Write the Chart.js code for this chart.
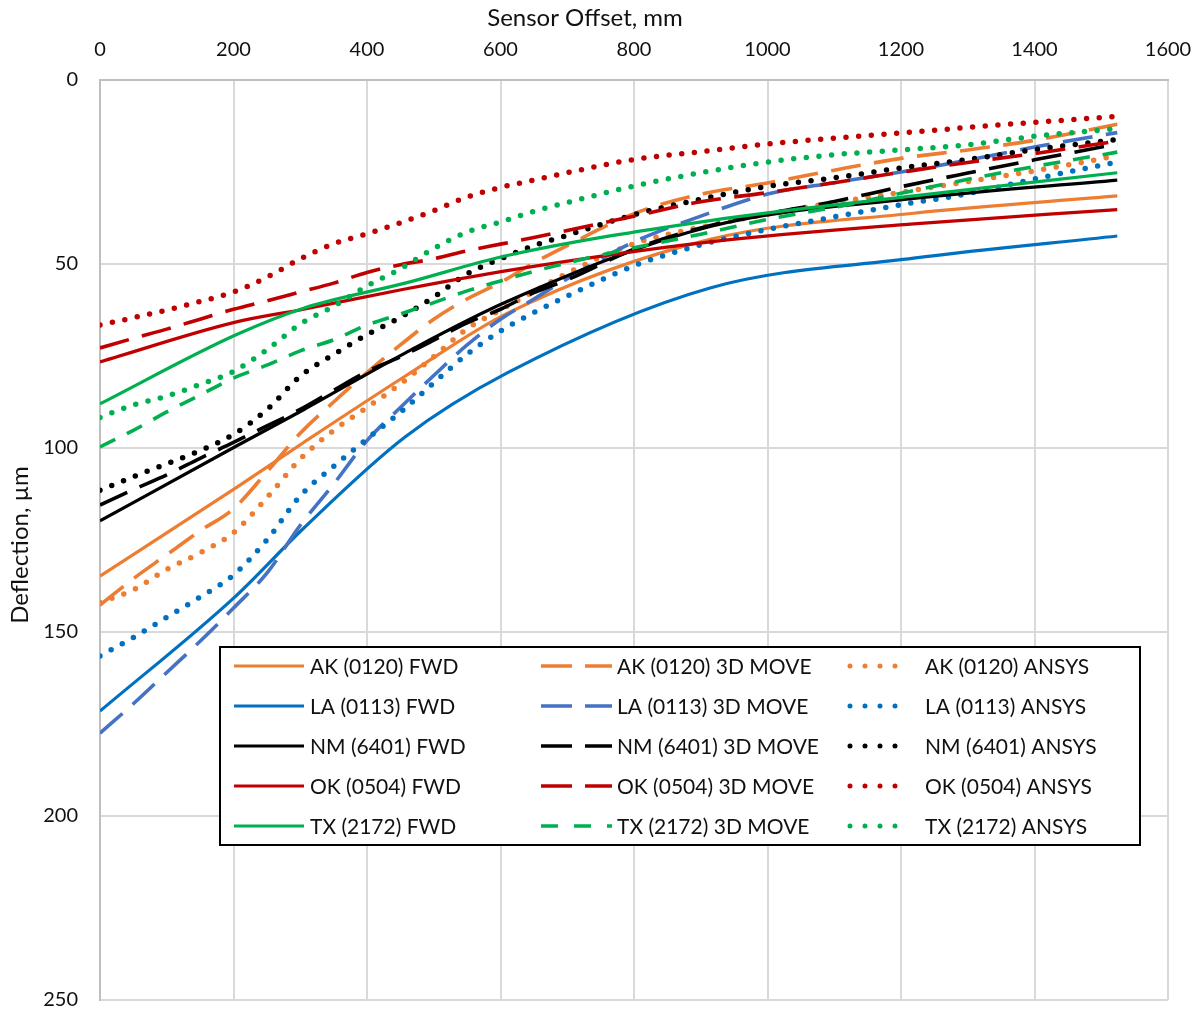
<!DOCTYPE html>
<html>
<head>
<meta charset="utf-8">
<title>Deflection basin</title>
<script src="https://cdn.jsdelivr.net/npm/chart.js@4.4.1/dist/chart.umd.min.js"></script>
<style>
  html, body { margin: 0; padding: 0; background: #ffffff; }
  #wrap { width: 1202px; height: 1011px; }
</style>
</head>
<body>
<div id="wrap"><canvas id="basinChart" width="1202" height="1011"></canvas></div>
<script>
// sensor offsets, mm
const fwdOffsets = [0, 203, 305, 457, 610, 914, 1219, 1524];
const modelOffsets = [0, 50, 100, 150, 200, 250, 300, 350, 400, 450, 500, 550, 600, 650, 700, 800, 900, 1000, 1100, 1200, 1300, 1400, 1524];

// deflections, µm — measured (FWD)
const akFwd = [134.8, 110.9, 98.5, 80.5, 63.4, 43.3, 36.2, 31.5];
const laFwd = [171.5, 140.3, 121.8, 97.0, 79.6, 56.5, 48.4, 42.4];
const nmFwd = [119.8, 99.6, 89.6, 74.2, 60.2, 39.8, 32.2, 27.2];
const okFwd = [76.6, 65.8, 62.3, 56.8, 51.8, 44.0, 39.1, 35.2];
const txFwd = [88.0, 69.3, 62.0, 55.2, 47.7, 38.2, 31.5, 25.2];

// deflections, µm — 3D MOVE
const ak3d = [142.7, 135.5, 129.0, 122.5, 116.5, 106.5, 96.0, 87.5, 79.5, 72.0, 65.0, 59.5, 55.0, 49.7, 45.0, 36.3, 31.0, 28.0, 24.5, 21.3, 19.0, 16.4, 12.0];
const la3d = [177.5, 169.5, 161.0, 152.5, 143.5, 134.0, 121.0, 109.8, 98.0, 89.0, 80.3, 72.0, 65.0, 59.5, 54.0, 44.0, 37.0, 31.0, 27.9, 25.0, 21.8, 18.2, 14.3];
const nm3d = [115.5, 111.3, 107.3, 102.8, 98.5, 94.0, 89.5, 84.3, 79.2, 75.2, 70.7, 66.0, 62.3, 57.8, 54.3, 46.0, 40.2, 36.3, 33.0, 29.0, 25.3, 21.7, 17.4];
const ok3d = [72.8, 70.2, 67.7, 65.0, 62.3, 60.0, 57.6, 55.2, 52.3, 50.2, 48.6, 46.4, 44.6, 42.8, 40.9, 37.0, 33.1, 30.6, 27.9, 25.1, 22.4, 20.0, 16.6];
const tx3d = [99.7, 95.2, 90.2, 85.6, 81.0, 77.5, 73.6, 70.6, 66.6, 63.6, 60.5, 57.3, 54.6, 52.0, 49.7, 45.6, 41.9, 37.9, 34.6, 30.8, 27.0, 23.5, 19.6];

// deflections, µm — ANSYS
const akAnsys = [142.0, 138.5, 133.0, 128.5, 123.0, 113.5, 103.0, 95.2, 89.0, 82.6, 75.2, 67.6, 62.5, 57.5, 52.5, 44.5, 40.0, 36.5, 33.3, 30.5, 27.6, 24.7, 20.6];
const laAnsys = [156.5, 151.5, 146.0, 140.5, 134.5, 125.0, 113.0, 105.0, 97.5, 90.3, 82.3, 74.5, 68.2, 63.2, 58.7, 50.5, 44.8, 40.6, 37.2, 33.9, 30.9, 26.9, 22.3];
const nmAnsys = [111.5, 107.8, 104.3, 100.7, 96.3, 89.6, 80.5, 74.6, 69.2, 64.5, 59.0, 52.7, 48.6, 45.0, 42.2, 36.6, 32.4, 28.9, 26.6, 23.9, 21.6, 18.9, 16.2];
const okAnsys = [66.6, 64.6, 62.5, 60.2, 57.6, 53.6, 48.6, 44.5, 41.8, 38.8, 35.5, 31.8, 29.2, 27.2, 25.2, 21.6, 19.5, 17.4, 15.8, 14.4, 12.9, 11.5, 9.9];
const txAnsys = [91.7, 88.3, 85.9, 82.7, 79.2, 73.3, 66.3, 61.5, 56.0, 51.3, 45.8, 41.3, 38.6, 35.7, 33.3, 28.8, 25.2, 22.3, 20.3, 19.0, 17.6, 15.3, 13.2];

const xTicks = [0, 200, 400, 600, 800, 1000, 1200, 1400, 1600];
const yTicks = [0, 50, 100, 150, 200, 250];
const xTitle = 'Sensor Offset, mm';
const yTitle = 'Deflection, µm';

const sites = ['AK (0120)', 'LA (0113)', 'NM (6401)', 'OK (0504)', 'TX (2172)'];
const methods = ['FWD', '3D MOVE', 'ANSYS'];

const seriesTable = [
  [akFwd, ak3d, akAnsys],
  [laFwd, la3d, laAnsys],
  [nmFwd, nm3d, nmAnsys],
  [okFwd, ok3d, okAnsys],
  [txFwd, tx3d, txAnsys]
];

// line colours per site: [FWD, 3D MOVE, ANSYS]
const siteColors = [
  ['#ED7D31', '#ED7D31', '#ED7D31'],
  ['#0070C0', '#4472C4', '#0070C0'],
  ['#000000', '#000000', '#000000'],
  ['#C00000', '#C00000', '#C00000'],
  ['#00B050', '#00B050', '#00B050']
];

function lineStyle(site, method) {
  if (method === 0) return { width: 3.2, dash: [], cap: 'butt', legendDash: [] };
  if (method === 1) {
    if (site === 4) return { width: 3.6, dash: [17, 13], cap: 'butt', legendDash: [17, 16] };
    return { width: 3.6, dash: [30, 13.5], cap: 'butt', legendDash: [31, 13] };
  }
  return { width: 5.5, dash: [0, 12.7], cap: 'round', legendDash: [0, 15] };
}

const datasets = [];
const total = sites.length * methods.length;
sites.forEach((site, s) => {
  methods.forEach((method, m) => {
    const xs = m === 0 ? fwdOffsets : modelOffsets;
    const ys = seriesTable[s][m];
    const st = lineStyle(s, m);
    datasets.push({
      label: site + ' ' + method,
      data: xs.map((x, i) => ({ x: x, y: ys[i] })),
      borderColor: siteColors[s][m],
      backgroundColor: siteColors[s][m],
      borderWidth: st.width,
      borderDash: st.dash,
      borderCapStyle: st.cap,
      borderJoinStyle: 'round',
      legendDash: st.legendDash,
      pointRadius: 0,
      fill: false,
      cubicInterpolationMode: 'monotone',
      // later series sit on top
      order: total - datasets.length
    });
  });
});

// boxed three-column legend inside the plot, plus the axis titles
const legendBox = {
  id: 'legendBox',
  afterDatasetsDraw(chart) {
    const ctx = chart.ctx;
    const box = { left: 220, top: 647, right: 1140, bottom: 845 };
    const rowY = [666, 706, 746, 786, 826];
    const cols = [
      { x0: 234, x1: 304, tx: 310 },
      { x0: 541, x1: 612, tx: 617 },
      { x0: 850, x1: 910, tx: 925 }
    ];
    ctx.save();
    ctx.fillStyle = '#ffffff';
    ctx.fillRect(box.left, box.top, box.right - box.left, box.bottom - box.top);
    ctx.lineWidth = 2;
    ctx.strokeStyle = '#000000';
    ctx.setLineDash([]);
    ctx.strokeRect(box.left, box.top, box.right - box.left, box.bottom - box.top);

    ctx.font = '21px Lato';
    ctx.textBaseline = 'middle';
    ctx.textAlign = 'left';
    chart.data.datasets.forEach((ds, i) => {
      const s = Math.floor(i / methods.length);
      const m = i % methods.length;
      const c = cols[m];
      const y = rowY[s];
      ctx.beginPath();
      ctx.strokeStyle = ds.borderColor;
      ctx.lineWidth = m === 2 ? 5 : ds.borderWidth;
      ctx.lineCap = ds.borderCapStyle;
      ctx.setLineDash(ds.legendDash);
      ctx.moveTo(c.x0, y);
      ctx.lineTo(c.x1, y);
      ctx.stroke();
      ctx.setLineDash([]);
      ctx.fillStyle = '#111111';
      ctx.fillText(ds.label, c.tx, y + 1);
    });

    // axis titles
    ctx.font = '24px Lato';
    ctx.fillStyle = '#111111';
    ctx.textAlign = 'center';
    ctx.fillText(xTitle, 585, 18);
    ctx.translate(20, 545);
    ctx.rotate(-Math.PI / 2);
    ctx.fillText(yTitle, 0, 0);
    ctx.restore();
  }
};

Chart.defaults.font.family = 'Lato';
Chart.defaults.color = '#111111';

function fixBox(size, key) {
  return (scale) => {
    scale[key] = size;
    scale.paddingLeft = 0;
    scale.paddingRight = 0;
    scale.paddingTop = 0;
    scale.paddingBottom = 0;
  };
}

new Chart(document.getElementById('basinChart'), {
  type: 'line',
  data: { datasets: datasets },
  plugins: [legendBox],
  options: {
    responsive: false,
    animation: false,
    devicePixelRatio: 1,
    layout: { padding: { left: 0, top: 0, right: 34, bottom: 11 } },
    plugins: {
      legend: { display: false },
      tooltip: { enabled: false }
    },
    scales: {
      x: {
        type: 'linear',
        position: 'top',
        min: 0,
        max: 1600,
        afterBuildTicks: (scale) => { scale.ticks = xTicks.map(v => ({ value: v })); },
        afterFit: fixBox(80, 'height'),
        ticks: { padding: 18, font: { size: 20 }, color: '#111111', callback: (v) => String(v) },
        grid: { color: '#D9D9D9', lineWidth: 2, drawTicks: false },
        border: { color: '#BFBFBF', width: 2 }
      },
      y: {
        type: 'linear',
        reverse: true,
        min: 0,
        max: 250,
        afterBuildTicks: (scale) => { scale.ticks = yTicks.map(v => ({ value: v })); },
        afterFit: fixBox(100, 'width'),
        ticks: { padding: 22, font: { size: 20 }, color: '#111111', callback: (v) => String(v) },
        grid: { color: '#D9D9D9', lineWidth: 2, drawTicks: false },
        border: { color: '#BFBFBF', width: 2 }
      }
    }
  }
});
</script>
</body>
</html>
